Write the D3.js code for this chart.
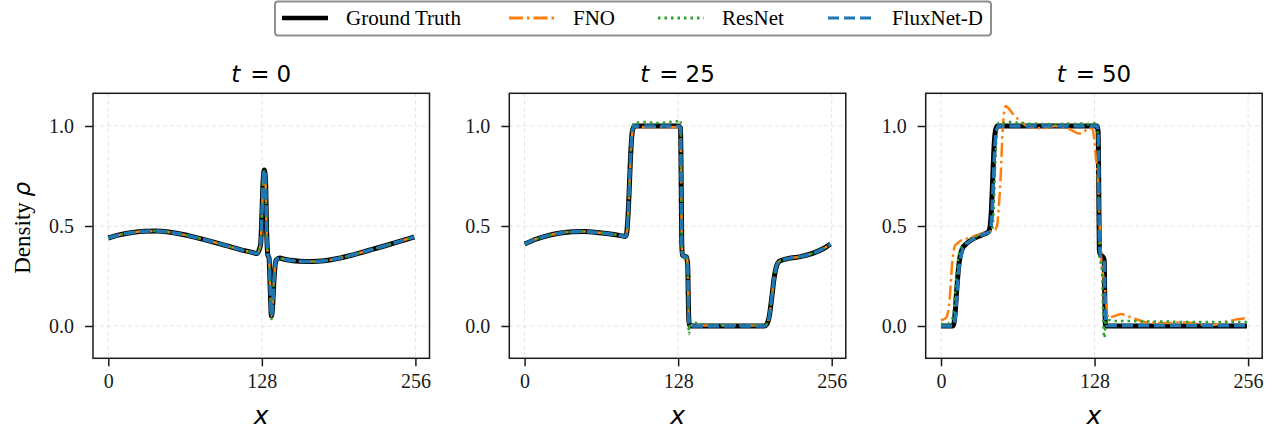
<!DOCTYPE html>
<html>
<head>
<meta charset="utf-8">
<script src="https://cdn.jsdelivr.net/npm/d3@7/dist/d3.min.js"></script>
<style>
  body { margin: 0; background: #fff; }
  svg { display: block; }
</style>
</head>
<body>
<svg id="fig" width="1278" height="434"></svg>
<script>
// ---- data (x = cell index, y = density) ----
const seriesNames = ['Ground Truth', 'FNO', 'ResNet', 'FluxNet-D'];
const timeLabels = ['0', '25', '50'];
const xTicks = [0, 128, 256];
const yTicks = [0.0, 0.5, 1.0];

const xT0 = [0,10,20,30,40,50,60,70,80,90, 100,110,120,124,126,127,128,129,130,131, 132,133,134,135,136,137,138,139,140,143, 146,150,160,170,180,190,200,210,220,230, 240,250,255];
const gtT0 = [0.44,0.457,0.468,0.474,0.475,0.47,0.46,0.447,0.432,0.416, 0.399,0.382,0.368,0.362,0.385,0.41,0.55,0.72,0.78,0.74, 0.47,0.355,0.34,0.18,0.05,0.1,0.22,0.3,0.33,0.34, 0.335,0.33,0.324,0.322,0.326,0.336,0.35,0.366,0.383,0.4, 0.418,0.436,0.445];
const fnoT0 = [0.44,0.457,0.468,0.474,0.475,0.47,0.46,0.447,0.432,0.416, 0.399,0.382,0.368,0.362,0.385,0.41,0.54,0.71,0.77,0.73, 0.47,0.355,0.34,0.18,0.05,0.1,0.22,0.3,0.33,0.34, 0.335,0.33,0.324,0.322,0.326,0.336,0.35,0.366,0.383,0.4, 0.418,0.436,0.445];
const resT0 = [0.44,0.457,0.468,0.474,0.475,0.47,0.46,0.447,0.432,0.416, 0.399,0.382,0.368,0.362,0.385,0.41,0.55,0.72,0.775,0.73, 0.47,0.355,0.34,0.17,0.035,0.09,0.22,0.3,0.33,0.34, 0.335,0.33,0.324,0.322,0.326,0.336,0.35,0.366,0.383,0.4, 0.418,0.436,0.445];
const fluxT0 = [0.44,0.457,0.468,0.474,0.475,0.47,0.46,0.447,0.432,0.416, 0.399,0.382,0.368,0.362,0.385,0.41,0.55,0.72,0.78,0.74, 0.47,0.355,0.34,0.18,0.05,0.1,0.22,0.3,0.33,0.34, 0.335,0.33,0.324,0.322,0.326,0.336,0.35,0.366,0.383,0.4, 0.418,0.436,0.445];

const xT25 = [0,10,20,30,40,50,60,70,80,84, 85,86,87,88,89,90,92,95,100,110, 120,128,130,130.5,131,131.5,133,135,136,136.5, 137,138,140,143,146,150,160,180,200,202, 204,206,208,210,212,215,220,230,240,250, 255];
const gtT25 = [0.41,0.435,0.453,0.465,0.471,0.472,0.468,0.461,0.452,0.448, 0.46,0.53,0.65,0.8,0.92,0.98,1.0,1.0,1.0,1.0, 1.0,1.0,0.99,0.75,0.42,0.355,0.35,0.345,0.3,0.12, 0.02,0,0,0,0,0,0,0,0,0.01, 0.05,0.14,0.24,0.3,0.322,0.33,0.338,0.347,0.363,0.39, 0.41];
const fnoT25 = [0.41,0.435,0.453,0.465,0.471,0.472,0.468,0.461,0.452,0.448, 0.46,0.52,0.64,0.79,0.91,0.975,0.995,0.995,0.995,0.995, 0.995,0.995,0.985,0.75,0.43,0.36,0.35,0.345,0.3,0.13, 0.025,0.005,0.003,0.004,0.003,0.003,0.002,0.002,0.003,0.012, 0.05,0.14,0.24,0.3,0.322,0.33,0.338,0.347,0.363,0.39, 0.41];
const resT25 = [0.41,0.435,0.453,0.465,0.471,0.472,0.468,0.461,0.452,0.446, 0.458,0.53,0.66,0.82,0.94,1.0,1.02,1.018,1.02,1.015, 1.02,1.025,1.03,0.78,0.44,0.35,0.34,0.33,0.25,0.05, -0.04,0.03,0.02,0.015,0.01,0.008,0.006,0.005,0.005,0.012, 0.05,0.14,0.24,0.3,0.322,0.33,0.338,0.347,0.363,0.39, 0.41];
const fluxT25 = [0.41,0.435,0.453,0.465,0.471,0.472,0.468,0.461,0.452,0.448, 0.46,0.53,0.65,0.8,0.92,0.98,1.0,1.0,1.0,1.0, 1.0,1.0,0.99,0.75,0.42,0.355,0.35,0.345,0.3,0.12, 0.02,0,0,0,0,0,0,0,0,0.01, 0.05,0.14,0.24,0.3,0.322,0.33,0.338,0.347,0.363,0.39, 0.41];

const xT50 = [0,3,5,7,8,9,10,11,12,13, 14,15,16,18,20,24,28,32,36,39, 40,41,42,43,44,45,46,47,48,50, 51,52,54,56,60,65,70,75,80,85, 90,95,100,105,110,115,118,122,126,128, 129,130,131,131.5,132,133,134,135,136,136.5, 137,138,139,140,142,145,150,155,160,170, 180,190,200,210,220,230,237,243,248,252, 255];
const gtT50 = [0,0,0,0,0,0,0,0.02,0.08,0.17, 0.25,0.31,0.35,0.39,0.405,0.425,0.44,0.45,0.46,0.468, 0.475,0.5,0.58,0.72,0.87,0.96,0.99,1.0,1.0,1.0, 1,1,1,1,1,1,1,1,1,1, 1,1,1,1,1,1,1,1,1,1, 1,1.0,0.97,0.7,0.38,0.355,0.35,0.345,0.33,0.15, 0.01,0,0,0,0,0,0,0,0,0, 0,0,0,0,0,0,0,0,0,0, 0];
const fnoT50 = [0.03,0.035,0.05,0.12,0.2,0.29,0.35,0.39,0.405,0.41, 0.415,0.42,0.425,0.43,0.435,0.44,0.45,0.458,0.465,0.468, 0.47,0.472,0.474,0.476,0.478,0.48,0.49,0.51,0.58,0.78, 0.93,1.03,1.1,1.09,1.06,1.03,1.005,0.995,0.99,0.988, 0.995,1.0,0.995,0.99,0.975,0.962,0.965,0.985,0.99,0.92, 0.85,0.8,0.72,0.64,0.55,0.4,0.3,0.26,0.22,0.19, 0.16,0.1,0.05,0.04,0.045,0.05,0.06,0.05,0.04,0.02, 0.015,0.015,0.018,0.015,0.005,0.008,0.02,0.028,0.035,0.038, 0.035];
const resT50 = [0.01,0.01,0.01,0.015,0.02,0.03,0.05,0.1,0.18,0.26, 0.32,0.36,0.38,0.4,0.41,0.43,0.445,0.455,0.462,0.466, 0.468,0.47,0.475,0.5,0.6,0.78,0.93,1.0,1.015,1.02, 1.02,1.015,1.015,1.02,1.02,1.015,1.015,1.01,1.012,1.01, 1.01,1.008,1.01,1.012,1.01,1.012,1.012,1.01,1.012,1.015, 1.02,1.01,0.9,0.6,0.36,0.32,0.3,0.1,-0.06,-0.05, 0.01,0.03,0.035,0.03,0.028,0.025,0.025,0.025,0.025,0.022, 0.022,0.022,0.02,0.02,0.02,0.02,0.02,0.02,0.02,0.02, 0.02];
const fluxT50 = [0,0,0,0,0,0,0,0.01,0.05,0.13, 0.22,0.29,0.33,0.38,0.4,0.423,0.438,0.45,0.46,0.466, 0.47,0.48,0.52,0.63,0.78,0.9,0.97,0.99,1.0,1.0, 1,1,1,1,1,1,1,1,1,1, 1,1,1,1,1,1,1,1,1,1, 1,1.0,0.98,0.8,0.45,0.35,0.345,0.34,0.32,0.2, 0.05,0.003,0.003,0.003,0.003,0.003,0.003,0.003,0.003,0.003, 0.003,0.003,0.003,0.003,0.003,0.003,0.003,0.003,0.003,0.003, 0.003];

const panelXs = [xT0, xT25, xT50];
const panelYs = [
    [gtT0, fnoT0, resT0, fluxT0],
    [gtT25, fnoT25, resT25, fluxT25],
    [gtT50, fnoT50, resT50, fluxT50]
];

// ---- styles ----
const serif = '"Liberation Serif", "Times New Roman", serif';
const mathFont = '"DejaVu Sans", sans-serif';

const lineStyles = [
    {color: '#000000', width: 5,   dash: null},
    {color: '#ff7f0e', width: 2.5, dash: '14,4,2.5,4'},
    {color: '#2ca02c', width: 2.5, dash: '2.5,4'},
    {color: '#1f77b4', width: 3.5, dash: '11,5'}
];

const layout = {
    lefts: [93, 509.3, 925.7],
    width: 336.5,
    top: 93.3,
    height: 265
};

const svg = d3.select('#fig');

const y = d3.scaleLinear()
    .domain([-0.1615, 1.1635])
    .range([layout.top + layout.height, layout.top]);

panelXs.forEach(function(xs, p) {
    const left = layout.lefts[p];
    const x = d3.scaleLinear()
        .domain([-12.75, 267.75])
        .range([left, left + layout.width]);

    const g = svg.append('g').attr('class', 'panel');

    // grid
    g.selectAll('line.gx').data(xTicks).enter().append('line')
        .attr('x1', d => x(d)).attr('x2', d => x(d))
        .attr('y1', layout.top).attr('y2', layout.top + layout.height)
        .attr('stroke', '#e3e3e3').attr('stroke-width', 1)
        .attr('stroke-dasharray', '4,3');
    g.selectAll('line.gy').data(yTicks).enter().append('line')
        .attr('x1', left).attr('x2', left + layout.width)
        .attr('y1', d => y(d)).attr('y2', d => y(d))
        .attr('stroke', '#e3e3e3').attr('stroke-width', 1)
        .attr('stroke-dasharray', '4,3');

    // curves
    const line = d3.line()
        .x(d => x(d[0]))
        .y(d => y(d[1]))
        .curve(d3.curveMonotoneX);

    panelYs[p].forEach(function(ys, s) {
        const st = lineStyles[s];
        const pts = xs.map((xv, i) => [xv, ys[i]]);
        g.append('path')
            .attr('d', line(pts))
            .attr('fill', 'none')
            .attr('stroke', st.color)
            .attr('stroke-width', st.width)
            .attr('stroke-dasharray', st.dash)
            .attr('stroke-linejoin', 'round');
    });

    // frame
    g.append('rect')
        .attr('x', left).attr('y', layout.top)
        .attr('width', layout.width).attr('height', layout.height)
        .attr('fill', 'none').attr('stroke', '#1a1a1a').attr('stroke-width', 1.5);

    // axes
    const xAxis = d3.axisBottom(x).tickValues(xTicks).tickSize(8).tickPadding(8)
        .tickFormat(d3.format('d'));
    const yAxis = d3.axisLeft(y).tickValues(yTicks).tickSize(8).tickPadding(11)
        .tickFormat(d3.format('.1f'));

    const gx = g.append('g')
        .attr('transform', 'translate(0,' + (layout.top + layout.height) + ')')
        .call(xAxis);
    const gy = g.append('g')
        .attr('transform', 'translate(' + left + ',0)')
        .call(yAxis);
    [gx, gy].forEach(function(ax) {
        ax.select('.domain').remove();
        ax.selectAll('.tick line').attr('stroke', '#1a1a1a').attr('stroke-width', 1.5);
        ax.selectAll('.tick text')
            .attr('fill', '#1a1a1a')
            .style('font-family', serif)
            .style('font-size', '20px');
    });

    // title  t = N  (mathtext-like spacing)
    const title = g.append('text')
        .attr('x', left + layout.width / 2)
        .attr('y', 82)
        .attr('text-anchor', 'middle')
        .style('font-family', mathFont)
        .style('font-size', '23px')
        .attr('fill', '#000');
    title.append('tspan').attr('font-style', 'italic').text('t');
    title.append('tspan').attr('dx', 10).text('=');
    title.append('tspan').attr('dx', 7).text(timeLabels[p]);

    // x label
    g.append('text')
        .attr('x', left + layout.width / 2)
        .attr('y', 424)
        .attr('text-anchor', 'middle')
        .style('font-family', mathFont)
        .style('font-size', '25px')
        .style('font-style', 'italic')
        .text('x');
});

// y label
const yl = svg.append('text')
    .attr('transform', 'translate(30,' + (layout.top + layout.height / 2 + 2) + ') rotate(-90)')
    .attr('text-anchor', 'middle')
    .style('font-family', serif)
    .style('font-size', '23px');
yl.append('tspan').text('Density ');
yl.append('tspan').style('font-family', mathFont).style('font-style', 'italic').text('ρ');

// legend
const legend = svg.append('g').attr('class', 'legend');
legend.append('rect')
    .attr('x', 275).attr('y', 1.5)
    .attr('width', 716).attr('height', 34)
    .attr('rx', 3)
    .attr('fill', '#fff')
    .attr('stroke', '#8f8f8f')
    .attr('stroke-width', 2);

const legendStarts = [282, 509, 658, 828];
seriesNames.forEach(function(name, s) {
    const st = lineStyles[s];
    const lx = legendStarts[s];
    legend.append('line')
        .attr('x1', lx).attr('x2', lx + 46)
        .attr('y1', 18).attr('y2', 18)
        .attr('stroke', st.color)
        .attr('stroke-width', s === 0 ? 4.5 : 3)
        .attr('stroke-dasharray', st.dash);
    legend.append('text')
        .attr('x', lx + 64)
        .attr('y', 25)
        .style('font-family', serif)
        .style('font-size', '21px')
        .text(name);
});
</script>
</body>
</html>
